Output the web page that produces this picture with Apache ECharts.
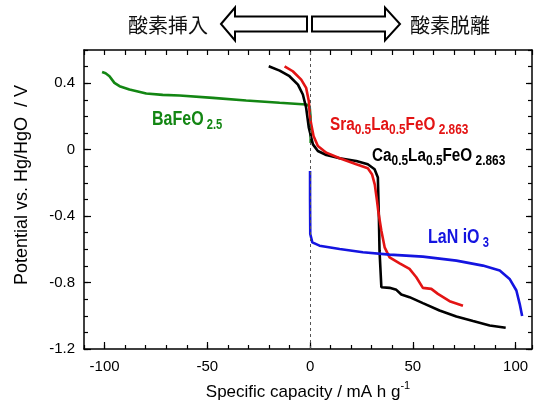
<!DOCTYPE html>
<html>
<head>
<meta charset="utf-8">
<script src="https://cdn.jsdelivr.net/npm/echarts@6/dist/echarts.min.js"></script>
<style>
  html, body { margin: 0; padding: 0; background: #fff; }
  #chart { width: 534px; height: 406px; }
</style>
</head>
<body>
<div id="chart"></div>
<script>
// specific capacity (mA h g-1) and potential (V vs. Hg/HgO)
const baCap = [-101.2, -99.5, -97.6, -95.2, -92.7, -87.9, -79.7, -71.7, -63.5, -47.3, -31.1, -14.8, -1.9, -0.2, 0.2, 0.3, 0.3];
const baPot = [0.468, 0.46, 0.442, 0.402, 0.382, 0.362, 0.338, 0.330, 0.326, 0.312, 0.296, 0.282, 0.272, 0.26, 0.2, 0.1, 0.04];

const caCap = [-20.1, -14.8, -10, -5.9, -3.5, -1.9, -0.6, 1.4, 3.8, 7.9, 14.4, 22.5, 28.1, 31.4, 33, 33.5, 33.8, 34.7, 38.7, 42, 44.4, 48.4, 54.9, 63, 71.2, 79.3, 87.4, 95.2];
const caPot = [0.502, 0.476, 0.442, 0.392, 0.332, 0.252, 0.132, 0.032, -0.008, -0.032, -0.052, -0.068, -0.088, -0.118, -0.168, -0.408, -0.608, -0.828, -0.832, -0.844, -0.872, -0.888, -0.924, -0.968, -1.004, -1.032, -1.058, -1.072];

const srCap = [-12.4, -8.4, -4.3, -1.9, -0.6, 0.0, 0.6, 1.7, 3.8, 7.9, 14.4, 22.5, 28.1, 30.2, 31.5, 32.5, 33.3, 34.7, 36.3, 38.7, 43.6, 48.4, 51.7, 54.9, 59, 62.2, 67.9, 74.4];
const srPot = [0.502, 0.472, 0.422, 0.372, 0.292, 0.192, 0.152, 0.082, 0.022, -0.018, -0.052, -0.088, -0.112, -0.15, -0.21, -0.3, -0.38, -0.488, -0.588, -0.648, -0.684, -0.718, -0.768, -0.832, -0.838, -0.868, -0.912, -0.94];

const laCap = [0, 0, 0.1, 1.1, 4.6, 14.4, 25.7, 38.7, 54.9, 71.2, 84.1, 92.3, 97.1, 100.4, 102, 103.2];
const laPot = [-0.128, -0.3, -0.508, -0.558, -0.578, -0.598, -0.618, -0.632, -0.644, -0.668, -0.698, -0.728, -0.778, -0.848, -0.928, -1.002];

const xMajor = [-100, -50, 0, 50, 100];
const yMajor = [-1.2, -0.8, -0.4, 0, 0.4];

function pairs(xs, ys) {
  return xs.map((x, i) => [x, ys[i]]);
}

const chart = echarts.init(document.getElementById('chart'));

const frame = { show: true, onZero: false, lineStyle: { color: '#000', width: 1.5 } };
const noLine = { show: false, onZero: false };
const tickStyle = { color: '#000', width: 1.2 };
const labelFont = 'Liberation Sans, Arial, sans-serif';
const chemFont = "'Liberation Sans', Arial, sans-serif";

// condensed bold labels with subscripts (no narrow font installed, so squeeze horizontally)
function chemLabel(text, x, y, color, size, squeeze) {
  return {
    type: 'text',
    x: x,
    y: y,
    scaleX: squeeze,
    style: {
      text: text,
      fill: color,
      align: 'left',
      verticalAlign: 'top',
      rich: {
        m: { fontSize: size, fontWeight: 'bold', fontFamily: chemFont, fill: color, verticalAlign: 'top', lineHeight: size },
        s: { fontSize: 14, fontWeight: 'bold', fontFamily: chemFont, fill: color, verticalAlign: 'top', padding: [size - 11, 0, 0, 0] }
      }
    }
  };
}

function line(data, color) {
  return {
    type: 'line',
    data: data,
    showSymbol: false,
    lineStyle: { color: color, width: 2.6 },
    itemStyle: { color: color },
    silent: true
  };
}

const series = [
  line(pairs(baCap, baPot), '#138613'),
  line(pairs(caCap, caPot), '#000000'),
  line(pairs(srCap, srPot), '#e31414'),
  line(pairs(laCap, laPot), '#1414e0')
];
series[0].markLine = {
  silent: true,
  symbol: 'none',
  label: { show: false },
  lineStyle: { type: [3, 3], color: '#555', width: 1 },
  data: [{ xAxis: 0 }]
};

chart.setOption({
  animation: false,
  grid: { left: 84, right: 2, top: 50, bottom: 57, outerBoundsMode: 'none' },
  xAxis: [
    {
      type: 'value', position: 'bottom', min: -110, max: 108,
      axisLine: frame, splitLine: { show: false },
      axisTick: { inside: true, length: 7, customValues: xMajor, lineStyle: tickStyle },
      axisLabel: { customValues: xMajor, color: '#000', fontSize: 15, margin: 10, fontFamily: labelFont },
      name: '{m|Specific capacity / mA h g}{u|-1}',
      nameLocation: 'middle', nameGap: 31,
      nameTextStyle: {
        rich: {
          m: { fontSize: 17, color: '#000', fontFamily: labelFont, verticalAlign: 'bottom', padding: [4, 0, 0, 0] },
          u: { fontSize: 11, color: '#000', fontFamily: labelFont, verticalAlign: 'top' }
        }
      }
    },
    {
      type: 'value', position: 'bottom', min: -110, max: 108, interval: 10,
      axisLine: noLine, splitLine: { show: false }, axisLabel: { show: false },
      axisTick: { inside: true, length: 4, lineStyle: tickStyle }
    },
    {
      type: 'value', position: 'top', min: -110, max: 108, interval: 10,
      axisLine: frame, splitLine: { show: false }, axisLabel: { show: false },
      axisTick: { inside: true, length: 5, lineStyle: tickStyle }
    }
  ],
  yAxis: [
    {
      type: 'value', position: 'left', min: -1.2, max: 0.6,
      axisLine: frame, splitLine: { show: false },
      axisTick: { inside: true, length: 7, customValues: yMajor, lineStyle: tickStyle },
      axisLabel: { customValues: yMajor, color: '#000', fontSize: 15, margin: 9, fontFamily: labelFont }
    },
    {
      type: 'value', position: 'left', min: -1.2, max: 0.6, interval: 0.1,
      axisLine: noLine, splitLine: { show: false }, axisLabel: { show: false },
      axisTick: { inside: true, length: 4, lineStyle: tickStyle }
    },
    {
      type: 'value', position: 'right', min: -1.2, max: 0.6,
      axisLine: frame, splitLine: { show: false }, axisLabel: { show: false },
      axisTick: { inside: true, length: 6, customValues: yMajor, lineStyle: tickStyle }
    },
    {
      type: 'value', position: 'right', min: -1.2, max: 0.6, interval: 0.1,
      axisLine: noLine, splitLine: { show: false }, axisLabel: { show: false },
      axisTick: { inside: true, length: 4, lineStyle: tickStyle }
    }
  ],
  series: series,
  graphic: [
    {
      type: 'text', x: 22, y: 185, rotation: Math.PI / 2,
      style: { text: 'Potential vs. Hg/HgO  / V', fill: '#000', font: '18px ' + labelFont, align: 'center', verticalAlign: 'middle' }
    },
    {
      type: 'text', x: 168, y: 25,
      style: { text: '酸素挿入', fill: '#111', font: "20px 'Noto Sans CJK JP'", align: 'center', verticalAlign: 'middle' }
    },
    {
      type: 'text', x: 450, y: 25,
      style: { text: '酸素脱離', fill: '#111', font: "20px 'Noto Sans CJK JP'", align: 'center', verticalAlign: 'middle' }
    },
    {
      type: 'polygon',
      shape: { points: [[221, 24], [235, 7.5], [235, 16.5], [307, 16.5], [307, 31.5], [235, 31.5], [235, 40.5]] },
      style: { fill: '#fff', stroke: '#000', lineWidth: 2 }
    },
    {
      type: 'polygon',
      shape: { points: [[312, 16.5], [385, 16.5], [385, 7.5], [400, 24], [385, 40.5], [385, 31.5], [312, 31.5]] },
      style: { fill: '#fff', stroke: '#000', lineWidth: 2 }
    },
    chemLabel('{m|BaFeO}{s| 2.5}', 152, 109, '#138613', 20, 0.8),
    chemLabel('{m|Sra}{s|0.5}{m|La}{s|0.5}{m|FeO}{s| 2.863}', 330, 116, '#e31414', 18, 0.85),
    chemLabel('{m|Ca}{s|0.5}{m|La}{s|0.5}{m|FeO}{s| 2.863}', 372, 147, '#000', 18, 0.85),
    chemLabel('{m|LaN iO}{s| 3}', 428, 227, '#1414e0', 20, 0.8)
  ]
});
</script>
</body>
</html>
